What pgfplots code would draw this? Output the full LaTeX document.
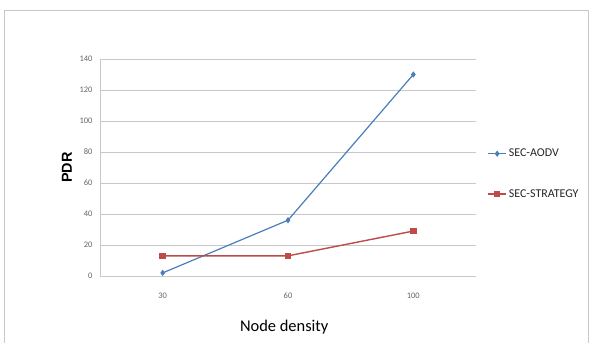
\documentclass[border=0pt]{standalone}
\usepackage{fontspec}
\setmainfont{Carlito}
\newfontfamily\arialfont{Liberation Sans}
\usepackage{pgfplots}
\pgfplotsset{compat=1.18}
\definecolor{sblue}{RGB}{74,126,187}
\definecolor{sred}{RGB}{190,75,72}
\definecolor{gridc}{RGB}{200,200,200}
\definecolor{tickc}{RGB}{100,100,100}
\begin{document}
\begin{tikzpicture}[x=1bp,y=1bp]
\begin{axis}[
  width=376bp, height=217bp, scale only axis,
  xmin=-0.5, xmax=2.5, ymin=0, ymax=140,
  xtick={0,1,2}, xticklabels={30,60,100},
  ytick={0,20,40,60,80,100,120,140},
  ymajorgrids, grid style={gridc, line width=0.8bp},
  axis line style={gridc, line width=0.8bp},
  axis x line*=bottom, axis y line*=left,
  x axis line style={-}, y axis line style={-},
  xtick style={draw=none},
  ytick style={gridc},
  major tick length=3bp,
  tick label style={font=\fontsize{8.5}{9}\selectfont, text=tickc},
  xticklabel style={yshift=-13bp},
  yticklabel style={xshift=-4bp},
  /pgf/number format/assume math mode=true,
  xlabel={Node density},
  xlabel style={font=\fontsize{16.5}{18}\selectfont, at={(axis description cs:0.49,0)}, yshift=-41bp},
  ylabel={PDR},
  ylabel style={font=\arialfont\bfseries\fontsize{14.5}{16}\selectfont, yshift=1bp},
  legend style={at={(axis description cs:1.03,0.595)}, anchor=north west, draw=none, fill=none,
    font=\fontsize{12}{13}\selectfont, text=black!85, row sep=27bp, inner sep=0pt},
  legend cell align=left,
  legend image code/.code={\draw[#1] (0,0) -- (18bp,0) plot coordinates {(9bp,0)};},
]
\coordinate (O) at (rel axis cs:0,0);
\addplot[sblue, line width=1.2bp, mark=diamond*, mark size=2.2bp] coordinates {(0,2) (1,36) (2,130)};
\addlegendentry{SEC-AODV}
\addplot[sred, line width=1.4bp, mark=square*, mark size=2.6bp] coordinates {(0,13) (1,13) (2,29)};
\addlegendentry{SEC-STRATEGY}
\end{axis}
\pgfresetboundingbox
\begin{scope}[shift={(O)}]
\path[use as bounding box] (-100,-66) rectangle (492,276);
\draw[gridc, line width=0.8bp] (-96,-70) -- (-96,266) -- (488,266) -- (488,-70);
\end{scope}
\end{tikzpicture}
\end{document}
